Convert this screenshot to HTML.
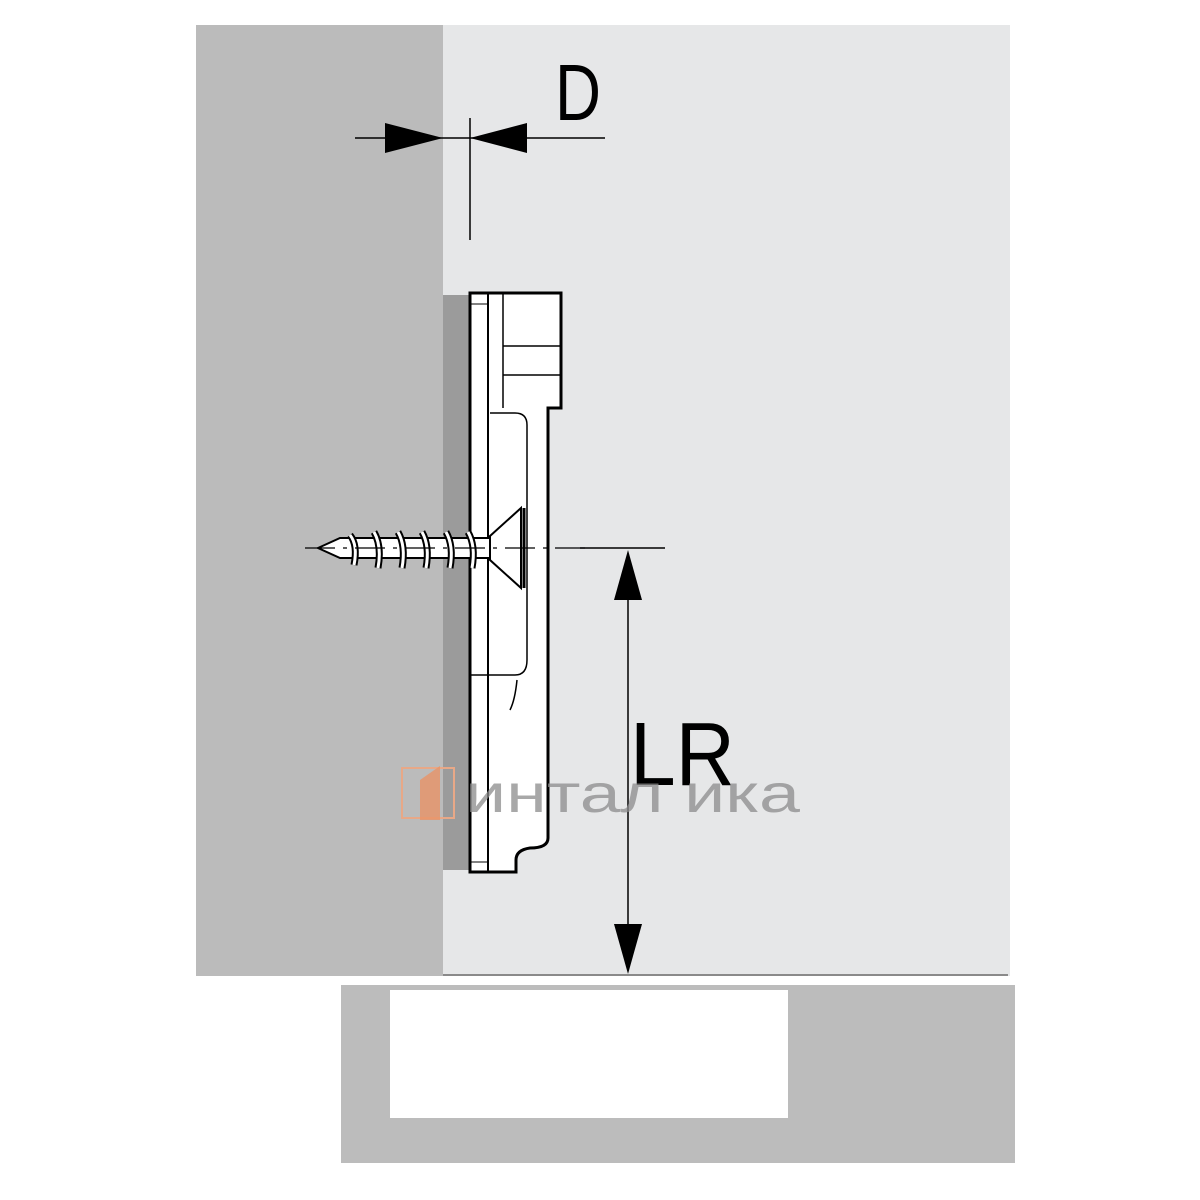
<!DOCTYPE html>
<html><head><meta charset="utf-8"><style>
html,body{margin:0;padding:0;background:#fff}
svg{display:block}
</style></head><body>
<svg width="1200" height="1200" viewBox="0 0 1200 1200" xmlns="http://www.w3.org/2000/svg">
<rect width="1200" height="1200" fill="#fff"/>
<rect x="196" y="25" width="247" height="951" fill="#bbbbbb"/>
<rect x="443" y="25" width="567" height="951" fill="#e6e7e8"/>
<line x1="443" y1="975" x2="1008" y2="975" stroke="#8a8a8a" stroke-width="2"/>
<rect x="341" y="985" width="674" height="178" fill="#bcbcbc"/>
<rect x="390" y="990" width="398" height="128" fill="#fff"/>
<rect x="443" y="295" width="27" height="575" fill="#9b9b9b"/>
<!-- plate -->
<path d="M470 293 H561 V408 H548 V838 Q548 848 530 848 Q516 850 516 860 V872 H470 Z" fill="#fff" stroke="#000" stroke-width="3"/>
<line x1="488" y1="293" x2="488" y2="872" stroke="#000" stroke-width="2"/>
<line x1="503" y1="293" x2="503" y2="408" stroke="#000" stroke-width="1.5"/>
<line x1="503" y1="346" x2="561" y2="346" stroke="#000" stroke-width="1.5"/>
<line x1="503" y1="375" x2="561" y2="375" stroke="#000" stroke-width="1.5"/>
<path d="M490 413 H515 Q527 413 527 425 V660 Q527 675 515 675 H470" fill="none" stroke="#000" stroke-width="1.5"/>
<path d="M517 680 Q515 700 510 710" fill="none" stroke="#000" stroke-width="1.5"/>
<line x1="470" y1="304" x2="488" y2="304" stroke="#000" stroke-width="1"/>
<line x1="470" y1="862" x2="488" y2="862" stroke="#000" stroke-width="1"/>
<!-- screw -->
<path d="M490 536 L521 508 L521 588 L490 560 Z" fill="#fff" stroke="#000" stroke-width="2"/>
<line x1="524" y1="508" x2="524" y2="588" stroke="#000" stroke-width="3"/>
<path d="M318 548 L340 538 H490 V558 H340 Z" fill="#fff" stroke="#000" stroke-width="2"/>
<g fill="none" stroke="#000" stroke-width="7">
<path d="M350 535 q8 10 4 30"/><path d="M374 532 q8 14 4 36"/><path d="M398 532 q8 14 4 36"/><path d="M422 532 q8 14 4 36"/><path d="M446 532 q8 14 4 36"/><path d="M468 532 q8 14 4 36"/>
</g>
<g fill="none" stroke="#fff" stroke-width="3">
<path d="M350 535 q8 10 4 30"/><path d="M374 532 q8 14 4 36"/><path d="M398 532 q8 14 4 36"/><path d="M422 532 q8 14 4 36"/><path d="M446 532 q8 14 4 36"/><path d="M468 532 q8 14 4 36"/>
</g>
<line x1="305" y1="548" x2="590" y2="548" stroke="#000" stroke-width="1.2" stroke-dasharray="30 8 4 8"/>
<line x1="580" y1="548" x2="665" y2="548" stroke="#000" stroke-width="1.5"/>
<!-- LR dimension -->
<line x1="628" y1="560" x2="628" y2="962" stroke="#000" stroke-width="1.5"/>
<path d="M628 550 L614 600 L642 600 Z" fill="#000"/>
<path d="M628 974 L614 924 L642 924 Z" fill="#000"/>
<text x="630" y="785" font-family="Liberation Sans, sans-serif" font-size="90" fill="#000" textLength="105" lengthAdjust="spacingAndGlyphs">LR</text>
<!-- D dimension -->
<line x1="355" y1="138" x2="605" y2="138" stroke="#000" stroke-width="1.5"/>
<path d="M443 138 L385 123 L385 153 Z" fill="#000"/>
<path d="M470 138 L527 123 L527 153 Z" fill="#000"/>
<line x1="470" y1="118" x2="470" y2="240" stroke="#000" stroke-width="1.5"/>
<text x="555" y="120" font-family="Liberation Sans, sans-serif" font-size="80" fill="#000" textLength="46" lengthAdjust="spacingAndGlyphs">D</text>
<!-- watermark -->
<rect x="402" y="768" width="52" height="50" fill="none" stroke="#e8a887" stroke-width="2"/>
<path d="M420 780 L440 766 V820 H420 Z" fill="#e89468" opacity="0.8"/>
<text x="465" y="812" font-family="Liberation Sans, sans-serif" font-size="54" fill="#8c8c8c" opacity="0.75" textLength="335" lengthAdjust="spacingAndGlyphs">интал ика</text>
</svg>
</body></html>
